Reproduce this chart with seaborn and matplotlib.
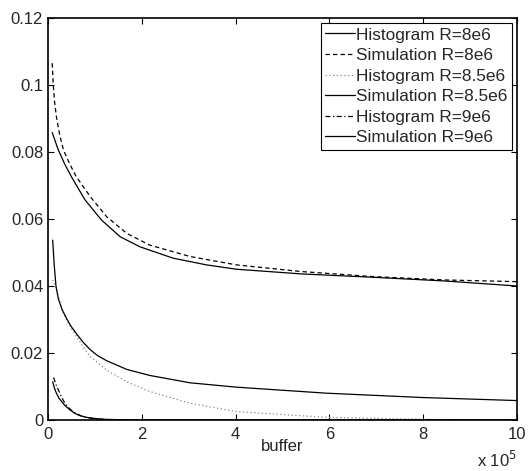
import numpy as np
import pandas as pd
import seaborn as sns
import matplotlib
matplotlib.use("Agg")
import matplotlib.pyplot as plt

# buffer values are in units of 1e5
hist_8_x = [0.09, 0.22, 0.36, 0.52, 0.79, 1.14, 1.54, 1.96, 2.67, 3.38, 4.02, 5.41, 6.94, 8.46, 10.0]
hist_8_y = [0.0858, 0.0806, 0.0763, 0.0721, 0.0657, 0.0597, 0.0547, 0.0517, 0.0483, 0.0463,
            0.0450, 0.0436, 0.0426, 0.0415, 0.0400]

sim_8_x = [0.09, 0.11, 0.14, 0.18, 0.25, 0.33, 0.45, 0.60, 0.90, 1.25, 1.68, 2.17, 3.03, 4.02,
           5.41, 6.94, 8.46, 10.0]
sim_8_y = [0.1065, 0.1005, 0.0950, 0.0905, 0.0850, 0.0806, 0.0768, 0.0727, 0.0667, 0.0607,
           0.0557, 0.0522, 0.0488, 0.0463, 0.0443, 0.0428, 0.0418, 0.0413]

hist_85_x = [0.10, 0.17, 0.30, 0.40, 0.50, 0.61, 0.75, 0.90, 1.25, 1.68, 2.17, 3.03, 4.02,
             5.94, 8.0, 10.0]
hist_85_y = [0.0418, 0.0395, 0.0328, 0.0298, 0.0272, 0.0250, 0.0218, 0.0189, 0.0149, 0.0114,
             0.0085, 0.0050, 0.0025, 0.0008, 0.0002, 0.0]

sim_85_x = [0.10, 0.13, 0.17, 0.22, 0.30, 0.40, 0.50, 0.61, 0.75, 0.90, 1.05, 1.25, 1.68, 2.17,
            3.03, 4.02, 5.94, 8.0, 10.0]
sim_85_y = [0.0537, 0.0468, 0.0400, 0.0362, 0.0330, 0.0302, 0.0278, 0.0257, 0.0232, 0.0210,
            0.0193, 0.0177, 0.0151, 0.0133, 0.0111, 0.0098, 0.0080, 0.0067, 0.0058]

hist_9_x = [0.12, 0.17, 0.22, 0.29, 0.36, 0.45, 0.54, 0.65, 0.75, 1.0, 1.5, 10.0]
hist_9_y = [0.0127, 0.0106, 0.0090, 0.0068, 0.0050, 0.0035, 0.0025, 0.0016, 0.0010, 0.0003,
            0.0, 0.0]

sim_9_x = [0.10, 0.14, 0.18, 0.23, 0.29, 0.37, 0.47, 0.57, 0.68, 0.82, 0.97, 1.2, 1.5, 2.0, 10.0]
sim_9_y = [0.0114, 0.0094, 0.0080, 0.0066, 0.0055, 0.0042, 0.0030, 0.0020, 0.0013, 0.0008,
           0.0005, 0.0002, 0.0001, 0.0, 0.0]

series = [
    ("Histogram R=8e6", hist_8_x, hist_8_y, "black", "-"),
    ("Simulation R=8e6", sim_8_x, sim_8_y, "black", (0, (3.5, 2.5))),
    ("Histogram R=8.5e6", hist_85_x, hist_85_y, "#888888", (0, (1, 2))),
    ("Simulation R=8.5e6", sim_85_x, sim_85_y, "black", "-"),
    ("Histogram R=9e6", hist_9_x, hist_9_y, "black", (0, (4, 2, 1, 2))),
    ("Simulation R=9e6", sim_9_x, sim_9_y, "black", "-"),
]

sns.set_style("ticks")
plt.rcParams['font.family'] = ['Liberation Sans', 'DejaVu Sans']
plt.rcParams['font.size'] = 12

fig = plt.figure(figsize=(5.28, 4.71), dpi=100)
ax = fig.add_axes([0.0909, 0.1083, 0.888, 0.8535])

for name, xs, ys, col, ls in series:
    sns.lineplot(x=xs, y=ys, ax=ax, color=col, linestyle=ls, linewidth=0.9,
                 label=name, sort=False, estimator=None)

ax.set_xlim(0, 10)
ax.set_ylim(0, 0.12)
ax.set_xticks([0, 2, 4, 6, 8, 10])
ax.set_xticklabels(["0", "2", "4", "6", "8", "10"])
ax.set_yticks([0, 0.02, 0.04, 0.06, 0.08, 0.1, 0.12])
ax.set_yticklabels(["0", "0.02", "0.04", "0.06", "0.08", "0.1", "0.12"])
ax.tick_params(direction="in", length=4, width=0.8, top=True, right=True,
               labelsize=12, color="black")
ax.tick_params(axis="y", pad=3.5)
ax.tick_params(axis="x", pad=5)
for sp in ax.spines.values():
    sp.set_visible(True)
    sp.set_linewidth(1.2)
    sp.set_color("black")

ax.set_xlabel("buffer", fontsize=12, labelpad=-2)
ax.text(1.0, -0.075, r"x 10$^{5}$", transform=ax.transAxes, ha="right", va="top", fontsize=12)

leg = ax.legend(loc="upper right", fontsize=12.4, frameon=True, fancybox=False,
                edgecolor="black", framealpha=1, handlelength=1.75, handletextpad=0.05,
                labelspacing=0.32, borderaxespad=0.3, borderpad=0.25)
leg.get_frame().set_linewidth(0.8)

fig.savefig("out.png", dpi=100)
